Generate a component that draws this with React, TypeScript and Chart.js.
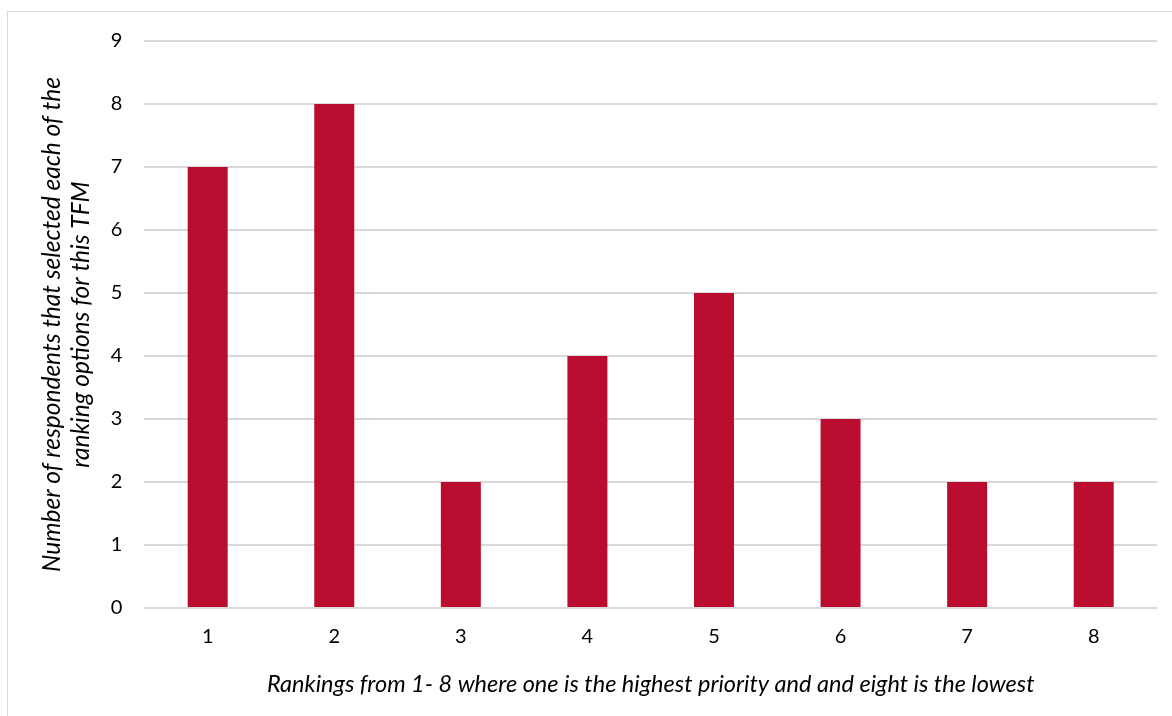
import React, { useEffect, useRef } from "react";
import { Chart, registerables } from "chart.js";

Chart.register(...registerables);

const rankings = ["1", "2", "3", "4", "5", "6", "7", "8"];
const respondents = [7, 8, 2, 4, 5, 3, 2, 2];
const yTitleLines = [
  "Number of respondents that selected each of the",
  "ranking options for this TFM",
];
const xTitle =
  "Rankings from 1- 8 where one is the highest priority and and eight is the lowest";

const FONT = "Lato, 'Open Sans', sans-serif";
const BAR = "#BA0C2F";
const GRID = "#d9d9d9";

export default function App() {
  const canvasRef = useRef<HTMLCanvasElement | null>(null);

  useEffect(() => {
    const canvas = canvasRef.current;
    if (!canvas) return;
    const chart = new Chart(canvas, {
      type: "bar",
      data: {
        labels: rankings,
        datasets: [
          {
            data: respondents,
            backgroundColor: BAR,
            borderWidth: 0,
            categoryPercentage: 1,
            barPercentage: 0.316,
          },
        ],
      },
      options: {
        responsive: false,
        animation: false,
        maintainAspectRatio: false,
        layout: { padding: { top: 29, right: 15, bottom: 17, left: 29 } },
        plugins: {
          legend: { display: false },
          tooltip: { enabled: false },
        },
        scales: {
          x: {
            grid: { display: false, drawTicks: false },
            border: { display: false },
            ticks: {
              color: "#000",
              padding: 17,
              font: { family: FONT, size: 20 },
            },
            title: {
              display: true,
              text: xTitle,
              color: "#000",
              font: { family: FONT, size: 23.5, style: "italic", lineHeight: 1.2 },
              padding: { top: 8, bottom: 0 },
            },
            afterFit: (scale: any) => {
              // band below the plot: tick labels plus the axis title
              scale.height = 91;
            },
          },
          y: {
            min: 0,
            max: 9,
            grid: { color: GRID, lineWidth: 2, drawTicks: false },
            border: { display: false },
            ticks: {
              stepSize: 1,
              color: "#000",
              padding: 22,
              font: { family: FONT, size: 20 },
            },
            title: {
              display: true,
              text: yTitleLines,
              color: "#000",
              font: { family: FONT, size: 24.5, style: "italic", lineHeight: 1.2 },
              padding: { top: 0, bottom: -7 },
            },
            afterFit: (scale: any) => {
              // the outer padding alone sets the top edge of the plot
              scale.paddingTop = 0;
              scale.paddingBottom = 0;
            },
          },
        },
      },
    });
    return () => chart.destroy();
  }, []);

  return (
    <div>
      <div
        style={{
          position: "fixed",
          left: 7,
          top: 11,
          width: 1300,
          height: 800,
          border: "1px solid #d9d9d9",
          boxSizing: "border-box",
          background: "#fff",
        }}
      />
      <div style={{ position: "fixed", left: 8, top: 12, width: 1164, height: 704 }}>
        <canvas ref={canvasRef} width={1164} height={704} />
      </div>
    </div>
  );
}
